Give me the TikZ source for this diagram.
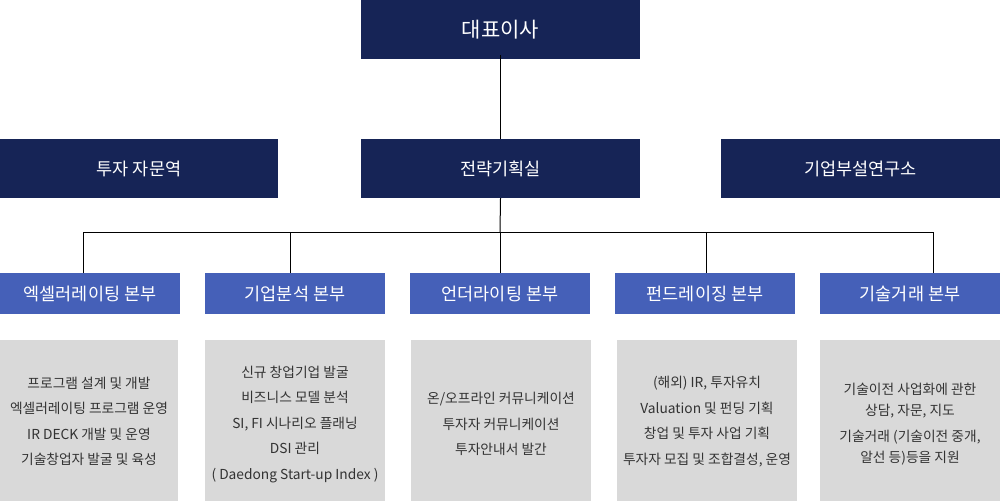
\documentclass[tikz,border=0pt]{standalone}
\usepackage{fontspec}
\setmainfont{Noto Sans CJK KR}
\definecolor{navy}{HTML}{162456}
\definecolor{midblue}{HTML}{4560B8}
\definecolor{lightgray}{HTML}{D9D9D9}
\definecolor{txtgray}{HTML}{333333}
\tikzset{
  topbox/.style={rectangle, fill=navy, text=white, minimum width=279pt, minimum height=59pt, inner sep=0pt, font=\fontsize{17.5}{22}\selectfont},
  divbox/.style={rectangle, fill=midblue, text=white, minimum width=180pt, minimum height=41pt, inner sep=0pt, font=\fontsize{17.5}{20}\selectfont},
  infobox/.style={rectangle, fill=lightgray, minimum width=180pt, minimum height=161pt, inner sep=0pt},
  infotext/.style={text=txtgray, align=center, inner sep=0pt, font=\fontsize{13.75}{25.5}\selectfont},
  conn/.style={draw=black, line width=1pt}
}
\begin{document}
\begin{tikzpicture}[x=1pt,y=-1pt]
\useasboundingbox[fill=white] (0,0) rectangle (1000,501);
% top levels
\node[topbox, font=\fontsize{21}{24}\selectfont] (ceo) at (500.5,29.5) {대표이사};
\node[topbox, minimum width=278pt] (adv) at (139,168.5) {투자 자문역};
\node[topbox] (strat) at (500.5,168.5) {전략기획실};
\node[topbox] (lab) at (860.5,168.5) {기업부설연구소};
% divisions
\node[divbox] (b1) at (90,293.5) {엑셀러레이팅 본부};
\node[divbox] (b2) at (295,293.5) {기업분석 본부};
\node[divbox] (b3) at (500,293.5) {언더라이팅 본부};
\node[divbox] (b4) at (705,293.5) {펀드레이징 본부};
\node[divbox] (b5) at (910,293.5) {기술거래 본부};
% info boxes
\node[infobox, minimum width=178pt] (g1) at (89,420.5) {};
\node[infobox] (g2) at (295,420.5) {};
\node[infobox] (g3) at (501,420.5) {};
\node[infobox] (g4) at (707,420.5) {};
\node[infobox] (g5) at (910,420.5) {};
\node[infotext] (t1) at (89,421.5) {프로그램 설계 및 개발\\엑셀러레이팅 프로그램 운영\\IR DECK 개발 및 운영\\기술창업자 발굴 및 육성};
\node[infotext] (t2) at (295,424) {신규 창업기업 발굴\\비즈니스 모델 분석\\SI, FI 시나리오 플래닝\\DSI 관리\\( Daedong Start-up Index )};
\node[infotext] (t3) at (501,424) {온/오프라인 커뮤니케이션\\투자자 커뮤니케이션\\투자안내서 발간};
\node[infotext] (t4) at (707,421.5) {(해외) IR, 투자유치\\Valuation 및 펀딩 기획\\창업 및 투자 사업 기획\\투자자 모집 및 조합결성, 운영};
\node[infotext, font=\fontsize{13.75}{20.5}\selectfont] (t5) at (910,424) {기술이전 사업화에 관한\\상담, 자문, 지도\\[6pt]기술거래 (기술이전 중개,\\알선 등)등을 지원};
% connectors
\coordinate (bus) at (500,232);
\coordinate (j1) at (83,232);
\coordinate (j2) at (290,232);
\coordinate (j4) at (706,232);
\coordinate (j5) at (933,232);
\draw[conn] ([yshift=4pt]ceo.south) -- (strat.north);
\draw[conn] (strat.south) -- (bus);
\draw[conn] (j1) -- (j5);
\draw[conn] (j1) -- (j1 |- b1.north);
\draw[conn] (j2) -- (j2 |- b2.north);
\draw[conn] (bus) -- (bus |- b3.north);
\draw[conn] (j4) -- (j4 |- b4.north);
\draw[conn] (j5) -- (j5 |- b5.north);
\end{tikzpicture}
\end{document}
